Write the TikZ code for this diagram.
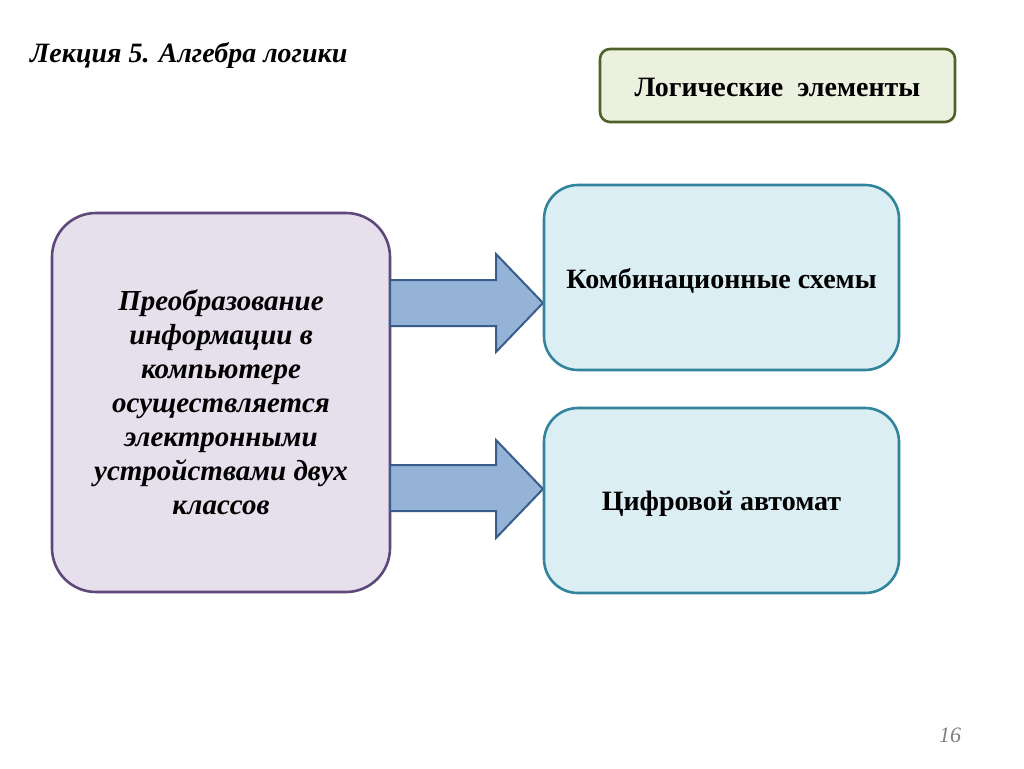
\documentclass[tikz,border=0pt]{standalone}
\usepackage{fontspec}
\setmainfont{Liberation Serif}
\definecolor{lavfill}{HTML}{E6E0EC}
\definecolor{lavline}{HTML}{5F497A}
\definecolor{grnfill}{HTML}{EBF1DE}
\definecolor{grnline}{HTML}{4F6228}
\definecolor{bluefill}{HTML}{DAEEF3}
\definecolor{blueline}{HTML}{31849B}
\definecolor{arrfill}{HTML}{95B3D7}
\definecolor{arrline}{HTML}{385D8A}
\tikzset{
  box/.style={draw, line width=2.6pt, rounded corners=#1},
  arrowshape/.style={draw=arrline, fill=arrfill, line width=2pt, line join=miter},
  txt/.style={font=\bfseries\fontsize{28}{32}\selectfont, align=center},
}
\begin{document}
\begin{tikzpicture}[x=1pt,y=-1pt]
\useasboundingbox (0,0) rectangle (1024,768);
\fill[white] (0,0) rectangle (1024,768);
% title
\node[anchor=base west, inner sep=0, font=\bfseries\itshape\fontsize{28}{32}\selectfont] (title) at (30,63) {Лекция 5. Алгебра логики};
% top-right box
\draw[box=10pt, draw=grnline, fill=grnfill] (600,49) rectangle (955,122);
\node[txt] (le) at (777.5,87) {Логические\ \ элементы};
% left box
\draw[box=44pt, draw=lavline, fill=lavfill] (52,213) rectangle (390,592);
\node[font=\bfseries\itshape\fontsize{29}{34}\selectfont, align=center] (left) at (221,402)
 {Преобразование\\информации в\\компьютере\\осуществляется\\электронными\\устройствами двух\\классов};
% arrows
\draw[arrowshape] (390,280) -- (496,280) -- (496,254) -- (543,303) -- (496,352) -- (496,326) -- (390,326) -- cycle;
\draw[arrowshape] (390,465) -- (496,465) -- (496,440) -- (543,489) -- (496,538) -- (496,511) -- (390,511) -- cycle;
% right boxes
\draw[box=34pt, draw=blueline, fill=bluefill] (544,185) rectangle (899,370);
\node[txt] (komb) at (721.5,281) {Комбинационные схемы};
\draw[box=34pt, draw=blueline, fill=bluefill] (544,408) rectangle (899,593);
\node[txt] (cifr) at (721.5,504) {Цифровой автомат};
% page number
\node[font=\itshape\fontsize{22}{26}\selectfont, text=gray, anchor=base] (pg) at (950,742) {16};
\end{tikzpicture}
\end{document}
